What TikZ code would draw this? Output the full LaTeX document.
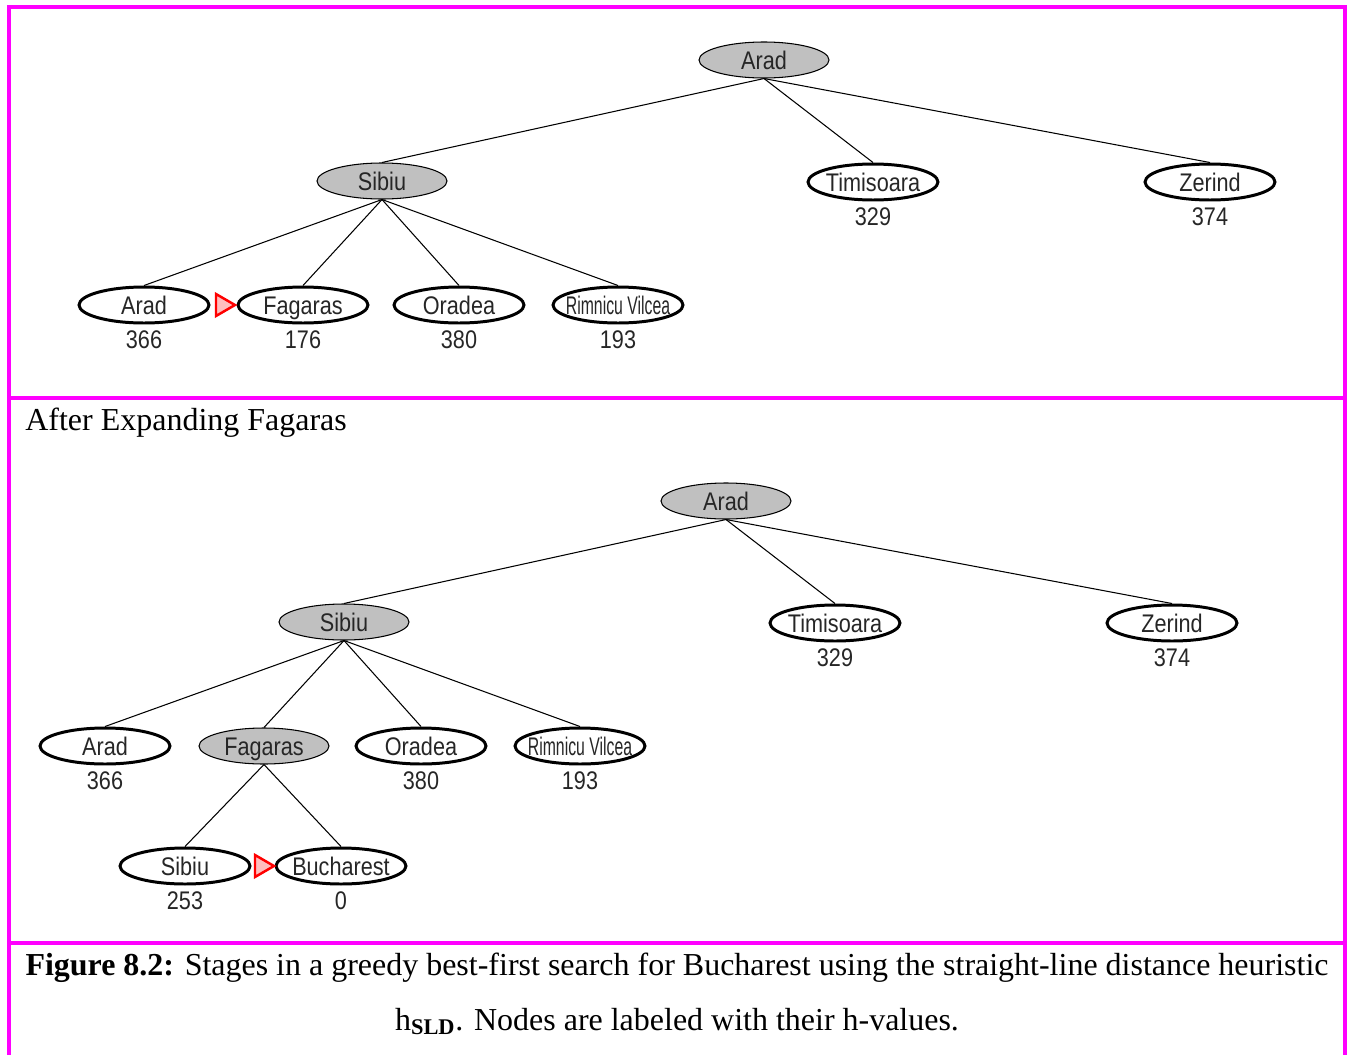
\documentclass[tikz,border=0pt]{standalone}
\usepackage{fontspec}
\setmainfont{Liberation Serif}
\newfontfamily\treefont[FakeStretch=0.85]{Liberation Sans}
\newfontfamily\tightfont[FakeStretch=0.62]{Liberation Sans}
\usetikzlibrary{shapes.geometric,positioning}
\definecolor{framepink}{RGB}{255,0,255}
\definecolor{expgray}{RGB}{192,192,192}

\begin{document}
\begin{tikzpicture}[
    x=0.02cm, y=-0.02cm,
    every node/.style={inner sep=0pt},
    city/.style={ellipse, minimum width=2.6cm, minimum height=0.72cm,
        inner xsep=-0.17cm, text height=11pt, text depth=0.5pt,
        font=\treefont\fontsize{14.5}{16}\selectfont, text=black!85},
    open/.style={city, draw, line width=1.7pt},
    closed/.style={city, draw, line width=0.6pt, fill=expgray},
    hval/.style={font=\treefont\fontsize{14.5}{16}\selectfont, text=black!85},
    branch/.style={draw, line width=0.6pt},
    nextmark/.style={draw=red, fill=red!25, line width=1.4pt, line join=miter},
    rule/.style={draw=framepink, line width=2.3pt},
    note/.style={font=\fontsize{18.2}{20}\selectfont}
    ]
\useasboundingbox (0,0) rectangle (1353,1055);

% frame
\draw[rule] (9,1055) -- (9,7) -- (1345,7) -- (1345,1055);
\draw[rule] (9,398) -- (1345,398);
\draw[rule] (9,943) -- (1345,943);

% first stage
\node[closed] (a1) at (764,60) {Arad};
\node[closed] (s1) at (382,181) {Sibiu};
\node[open] (t1) at (873,182) {Timisoara};
\node[open] (z1) at (1210,182) {Zerind};
\node[open] (sa1) at (144,305) {Arad};
\node[open] (sf1) at (303,305) {Fagaras};
\node[open] (so1) at (459,305) {Oradea};
\node[open] (sr1) at (618,305) {\tightfont Rimnicu Vilcea};
\node[hval, below=0.11cm of t1] (t1h) {329};
\node[hval, below=0.11cm of z1] (z1h) {374};
\node[hval, below=0.11cm of sa1] (sa1h) {366};
\node[hval, below=0.11cm of sf1] (sf1h) {176};
\node[hval, below=0.11cm of so1] (so1h) {380};
\node[hval, below=0.11cm of sr1] (sr1h) {193};
\foreach \c in {s1,t1,z1}
    \draw[branch] (a1.south) -- (\c.north);
\foreach \c in {sa1,sf1,so1,sr1}
    \draw[branch] (s1.south) -- (\c.north);
\coordinate (m1) at (216,305);
\draw[nextmark] (m1) ++(0,-11) -- ++(19,11) -- ++(-19,11) -- cycle;

\node[note, anchor=base west] (step) at (25,430) {After Expanding Fagaras};

% second stage
\node[closed] (a2) at (726,501) {Arad};
\node[closed] (s2) at (344,622) {Sibiu};
\node[open] (t2) at (835,623) {Timisoara};
\node[open] (z2) at (1172,623) {Zerind};
\node[open] (sa2) at (105,746) {Arad};
\node[closed] (sf2) at (264,746) {Fagaras};
\node[open] (so2) at (421,746) {Oradea};
\node[open] (sr2) at (580,746) {\tightfont Rimnicu Vilcea};
\node[open] (fs2) at (185,866) {Sibiu};
\node[open] (fb2) at (341,866) {Bucharest};
\node[hval, below=0.11cm of t2] (t2h) {329};
\node[hval, below=0.11cm of z2] (z2h) {374};
\node[hval, below=0.11cm of sa2] (sa2h) {366};
\node[hval, below=0.11cm of so2] (so2h) {380};
\node[hval, below=0.11cm of sr2] (sr2h) {193};
\node[hval, below=0.11cm of fs2] (fs2h) {253};
\node[hval, below=0.11cm of fb2] (fb2h) {0};
\foreach \c in {s2,t2,z2}
    \draw[branch] (a2.south) -- (\c.north);
\foreach \c in {sa2,sf2,so2,sr2}
    \draw[branch] (s2.south) -- (\c.north);
\foreach \c in {fs2,fb2}
    \draw[branch] (sf2.south) -- (\c.north);
\coordinate (m2) at (255,866);
\draw[nextmark] (m2) ++(0,-11) -- ++(19,11) -- ++(-19,11) -- cycle;

% caption
\node[note, anchor=base] (cap1) at (677,975) {\textbf{Figure 8.2:} Stages in a greedy best-first search for Bucharest using the straight-line distance heuristic};
\node[note, anchor=base] (cap2) at (677,1030) {h\textsubscript{\textbf{SLD}}. Nodes are labeled with their h-values.};
\end{tikzpicture}
\end{document}
